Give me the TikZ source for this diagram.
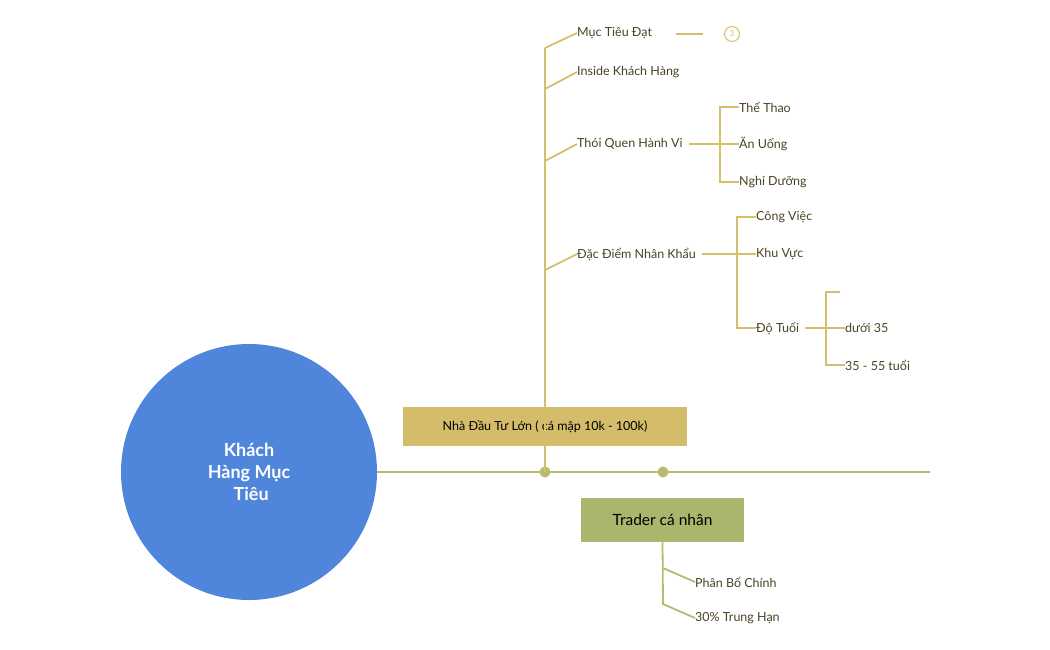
\documentclass[tikz,border=0pt]{standalone}
\usepackage{fontspec}
\setmainfont{Lato}
\definecolor{gold}{HTML}{D6BF6C}
\definecolor{goldbox}{HTML}{D4BC6A}
\definecolor{grn}{HTML}{ABB56B}
\definecolor{mline}{HTML}{B8BA72}
\definecolor{blu}{HTML}{4F86DC}
\definecolor{txt}{HTML}{4A4226}
\begin{document}
\begin{tikzpicture}[x=1pt,y=-1pt,
  lbl/.style={anchor=west,inner sep=0pt,text=txt,font=\fontsize{12.5}{14}\selectfont},
  gl/.style={draw=gold,line width=1.8pt},
  gr/.style={draw=mline,line width=1.8pt}]
\useasboundingbox (0,0) rectangle (1050,649);
\node[circle,fill=blu,minimum size=256pt,inner sep=0pt,text=white,align=center,font=\bfseries\fontsize{18}{22}\selectfont] (c) at (249,472) {Khách\\Hàng Mục\\\ Tiêu};
\coordinate (e) at (930,472);
\draw[gr] (c.east) -- (e);
\coordinate (d1) at (545,472);
\coordinate (d2) at (663,472);
\fill[mline] (d1) circle (5.5) (d2) circle (5.5);
\node[fill=goldbox,minimum width=284pt,minimum height=39pt,inner sep=0pt,font=\fontsize{12.5}{14}\selectfont] (b1) at (545,426.5) {Nhà Đầu Tư Lớn ( cá mập 10k - 100k)};
\node[fill=grn,minimum width=163pt,minimum height=44pt,inner sep=0pt,font=\fontsize{15.5}{18}\selectfont] (b2) at (662.5,520) {Trader cá nhân};
\coordinate (top) at (545,48);
\draw[gl] (d1) -- (top);
\node[lbl] (m1) at (577,33) {Mục Tiêu Đạt};
\node[lbl] (m2) at (577,72) {Inside Khách Hàng};
\node[lbl] (m3) at (577,144) {Thói Quen Hành Vi};
\node[lbl] (m4) at (577,254) {Đặc Điểm Nhân Khẩu};
\draw[gl] (545,48) -- (m1.west);
\draw[gl] (545,89) -- (m2.west);
\draw[gl] (545,161) -- (m3.west);
\draw[gl] (545,270) -- (m4.west);
\node[circle,draw=gold,line width=1pt,minimum size=15pt,inner sep=0pt,text=gold,font=\fontsize{8}{9}\selectfont] (n3) at (732,34) {3};
\draw[gl] (676,34) -- (703,34);
\draw[draw=gold,line width=1pt] (723,34) -- (n3.west);
% Thoi quen
\node[lbl] (t1) at (739,107) {Thể Thao};
\node[lbl] (t2) at (739,144) {Ăn Uống};
\node[lbl] (t3) at (739,182) {Nghỉ Dưỡng};
\draw[gl] (m3.east)++(6,0) -- (t2.west);
\draw[gl] (t1.west) -- (720,107) -- (720,182) -- (t3.west);
% Dac diem
\node[lbl] (k1) at (756,217) {Công Việc};
\node[lbl] (k2) at (756,254) {Khu Vực};
\node[lbl] (k3) at (756,328) {Độ Tuổi};
\draw[gl] (m4.east)++(6,0) -- (k2.west);
\draw[gl] (k1.west) -- (737,217) -- (737,328) -- (k3.west);
% Do tuoi
\coordinate (a0) at (840,292);
\node[lbl] (a1) at (845,328) {dưới 35};
\node[lbl] (a2) at (845,365) {35 - 55 tuổi};
\draw[gl] (k3.east)++(6,0) -- (a1.west);
\draw[gl] (a0) -- (826,292) -- (826,365) -- (a2.west);
% Trader
\node[lbl] (p1) at (695,582) {Phân Bổ Chính};
\node[lbl] (p2) at (695,618) {30\% Trung Hạn};
\draw[gr] (b2.south) -- (663,604) -- (p2.west);
\draw[gr] (663,568) -- (p1.west);
\end{tikzpicture}
\end{document}
